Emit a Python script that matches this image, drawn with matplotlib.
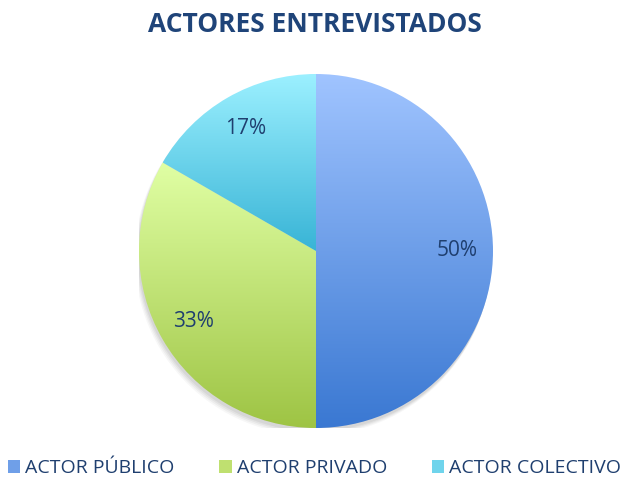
import numpy as np
import matplotlib
matplotlib.use("Agg")
import matplotlib.pyplot as plt
from matplotlib.patches import Patch, Circle
import matplotlib.colors as mcolors

# data
labels = ["ACTOR PÚBLICO", "ACTOR PRIVADO", "ACTOR COLECTIVO"]
values = [3, 2, 1]
top_colors = ["#a0c4ff", "#e0ffa4", "#9cf0ff"]
bottom_colors = ["#3a78d2", "#9ec444", "#38b4d6"]
mid_colors = ["#6f9fe8", "#bfe070", "#6fd4ec"]

title_color = "#1f4479"
text_color = "#1f3f6f"

plt.rcParams['font.family'] = ['Open Sans', 'DejaVu Sans']

W, H = 629, 478
fig = plt.figure(figsize=(W / 100, H / 100), dpi=100)
cx, cy, r = 316, 251, 177
ax = fig.add_axes([(cx - r) / W, (H - cy - r) / H, 2 * r / W, 2 * r / H])
ax.set_xlim(-1, 1)
ax.set_ylim(-1, 1)
ax.set_aspect('equal')
ax.axis('off')

# soft shadow (mostly bottom-left)
for i, a in enumerate([0.05, 0.045, 0.04, 0.03]):
    ax.add_patch(Circle((-0.006 - i * 0.004, -0.018 - i * 0.006), 1.0 + i * 0.002,
                        facecolor='black', alpha=a, edgecolor='none', zorder=0))

wedges, texts, autotexts = ax.pie(values, startangle=90, counterclock=False,
                                  radius=1.0, autopct='%1.0f%%', pctdistance=0.8,
                                  wedgeprops=dict(edgecolor='none'),
                                  textprops=dict(color=text_color, fontsize=15))
for w, c1, c2 in zip(wedges, top_colors, bottom_colors):
    w.set_facecolor('none')
    ext = w.get_path().get_extents(w.get_transform() - ax.transData)
    cmap = mcolors.LinearSegmentedColormap.from_list('g', [c2, c1])
    grad = np.linspace(0, 1, 256).reshape(-1, 1)
    im = ax.imshow(grad, cmap=cmap, origin='lower', aspect='auto',
                   extent=[ext.x0, ext.x1, ext.y0, ext.y1], zorder=1)
    im.set_clip_path(w)
for t in autotexts:
    t.set_zorder(3)
ax.set_xlim(-1, 1)
ax.set_ylim(-1, 1)

fig.text(0.5, 1 - 24 / H, "ACTORES ENTREVISTADOS", ha='center', va='center',
         fontsize=19, fontweight='bold', color=title_color)

handles = [Patch(facecolor=c, edgecolor='none') for c in mid_colors]
fig.legend(handles, labels, loc='center', bbox_to_anchor=(0.5, 1 - 468 / H),
           ncol=3, frameon=False, fontsize=14, labelcolor=text_color,
           handlelength=0.65, handleheight=0.65, handletextpad=0.25,
           columnspacing=2.3, borderpad=0, borderaxespad=0)

fig.savefig("out.png", dpi=100)
